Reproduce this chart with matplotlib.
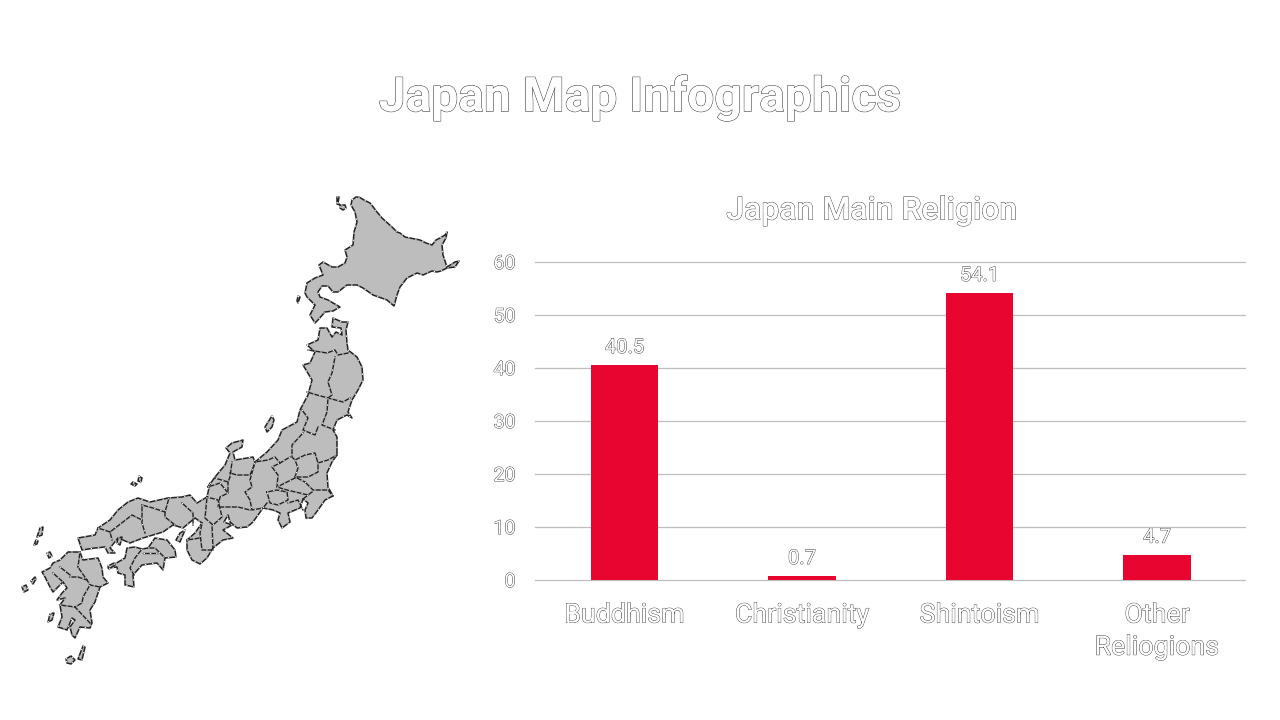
#!/usr/bin/env python3
# Japan map infographic: traced prefecture map on the left, religion bars on the right.
import matplotlib
matplotlib.use("Agg")
import matplotlib.pyplot as plt
import matplotlib.patheffects as pe
from matplotlib.patches import Polygon

plt.rcParams["font.family"] = ["Roboto", "DejaVu Sans"]

categories = ["Buddhism", "Christianity", "Shintoism", "Other\nReliogions"]
values = [40.5, 0.7, 54.1, 4.7]
y_ticks = [0, 10, 20, 30, 40, 50, 60]

# map outlines (canvas pixels)
hokkaido = [(352, 200), (356, 197), (359, 197), (364, 200), (370, 203), (374, 208), (377, 212), (382, 218), (392, 227), (397, 232), (400, 233), (405, 237), (410, 238),
            (420, 240), (426, 243), (432, 245), (436, 240), (440, 238), (445, 235), (447, 232), (446, 238), (442, 245), (443, 255),
            (447, 267), (455, 262), (459, 261), (455, 267), (447, 268), (441, 271), (437, 272), (432, 271), (423, 275), (417, 273),
            (407, 278), (400, 287), (397, 295), (394, 306), (387, 300), (373, 295), (363, 288), (357, 285),
            (347, 285), (338, 292), (333, 292), (328, 286), (322, 286), (318, 292), (320, 297), (328, 300),
            (340, 307), (333, 311), (325, 312), (318, 320), (315, 323), (310, 315), (315, 305), (307, 297),
            (305, 293), (307, 283), (315, 278), (323, 275), (319, 265), (323, 262), (332, 267), (338, 267),
            (345, 263), (347, 257), (345, 250), (353, 245), (354, 232), (357, 222), (355, 212), (351, 205)]
honshu = [(307, 345), (318, 340), (320, 328), (327, 328), (332, 337), (336, 332), (342, 335), (341, 328),
          (332, 327), (333, 318), (342, 322), (348, 322), (346, 330), (347, 343), (348, 350), (357, 357),
          (362, 367), (363, 380), (358, 390), (352, 400), (348, 412), (352, 418), (347, 415), (337, 420),
          (333, 430), (337, 437), (337, 455), (332, 462), (327, 473), (328, 487), (333, 496), (325, 500),
          (318, 510), (312, 518), (306, 518), (305, 510), (308, 503), (303, 499), (300, 508), (288, 513),
          (290, 522), (282, 528), (278, 520), (280, 513), (273, 510), (263, 508), (253, 522), (247, 527),
          (237, 528), (230, 522), (228, 515), (224, 522), (232, 525), (223, 530), (233, 538), (223, 540),
          (213, 548), (207, 558), (200, 564), (192, 560), (187, 550), (187, 540), (195, 533), (202, 523),
          (195, 518), (183, 528), (173, 525), (163, 532), (143, 538), (130, 543), (118, 538), (110, 548),
          (115, 553), (108, 553), (105, 547), (95, 548), (82, 550), (78, 538), (95, 535), (98, 528),
          (110, 520), (118, 510), (128, 502), (138, 498), (150, 502), (168, 498), (182, 497), (190, 495),
          (197, 503), (207, 497), (210, 483), (208, 487), (215, 477), (225, 465), (230, 453), (226, 448),
          (232, 443), (243, 440), (242, 447), (233, 452), (235, 460), (253, 457), (255, 462), (267, 452),
          (278, 440), (282, 430), (297, 422), (300, 410), (308, 395), (312, 380), (303, 365), (310, 363),
          (315, 352)]
shikoku = [(148, 548), (155, 538), (167, 540), (175, 550), (176, 557), (165, 558), (163, 570), (157, 563),
           (142, 565), (133, 575), (134, 587), (125, 585), (125, 575), (118, 573), (117, 567), (108, 568),
           (125, 558), (127, 548), (135, 547), (142, 549)]
kyushu = [(60, 560), (68, 552), (80, 552), (83, 560), (98, 558), (102, 568), (103, 577), (108, 583),
          (100, 587), (95, 602), (90, 610), (92, 623), (90, 628), (80, 627), (75, 638), (72, 635),
          (70, 627), (75, 620), (72, 618), (67, 630), (58, 627), (62, 617), (60, 605), (65, 598),
          (57, 600), (62, 593), (67, 588), (63, 582), (53, 592), (50, 587), (45, 577), (42, 572),
          (50, 568), (53, 563)]
islands = [
    [(272, 416), (274, 420), (272, 427), (267, 432), (265, 427), (268, 422)],  # Sado
    [(341, 205), (345, 205), (346, 208), (343, 210), (340, 208)],  # Rishiri
    [(337, 197), (339, 197), (338, 203), (340, 205), (337, 204)],  # Rebun
    [(298, 296), (300, 297), (298, 303), (297, 301)],  # Okushiri
    [(185, 530), (180, 542), (176, 540), (180, 533)],  # Awaji
    [(139, 476), (142, 478), (141, 482), (138, 481)],  # Oki
    [(133, 482), (137, 484), (135, 486), (131, 484)],
    [(40, 528), (43, 527), (42, 535), (37, 537)],  # Tsushima
    [(36, 540), (38, 541), (37, 544), (34, 545)],
    [(47, 553), (50, 552), (52, 556), (49, 558)],  # Iki
    [(22, 587), (26, 585), (28, 590), (24, 592)],  # Goto
    [(31, 581), (35, 577), (36, 579), (33, 584)],
    [(50, 614), (54, 613), (52, 620), (48, 622)],  # Koshiki
    [(83, 646), (85, 647), (82, 660), (78, 659)],  # Tanegashima
    [(66, 659), (71, 656), (75, 660), (71, 664), (67, 663)],  # Yakushima
    [(108, 566), (114, 563), (115, 565), (109, 569)],
    [(118, 538), (122, 537), (120, 545), (117, 543)],
]
borders = [
    [(308, 350), (327, 353), (335, 350), (338, 355), (348, 353)],
    [(335, 357), (332, 373), (328, 382), (332, 395), (328, 398)],
    [(307, 392), (317, 395), (328, 398), (343, 402), (350, 398)],
    [(328, 398), (327, 412), (322, 425), (335, 430)],
    [(302, 410), (308, 418), (303, 430), (315, 435), (318, 427)],
    [(303, 433), (292, 445), (292, 457), (295, 460), (305, 455), (315, 453), (318, 463), (328, 460), (337, 455)],
    [(295, 460), (298, 468), (295, 477), (305, 482)],
    [(318, 463), (318, 472), (308, 477), (295, 477)],
    [(305, 482), (313, 490), (328, 490), (333, 496)],
    [(290, 457), (280, 463), (272, 467), (278, 475), (277, 487), (295, 478)],
    [(277, 487), (287, 490), (308, 495), (312, 492)],
    [(255, 462), (268, 460), (275, 457), (280, 463)],
    [(255, 462), (250, 480), (252, 487), (245, 492), (250, 500), (252, 510), (263, 508)],
    [(267, 492), (277, 490), (287, 492), (288, 500), (278, 505), (270, 503), (267, 492)],
    [(288, 503), (298, 500), (303, 510)],
    [(308, 495), (303, 499)],
    [(263, 508), (267, 503)],
    [(230, 473), (237, 475), (250, 475), (253, 468), (255, 462)],
    [(232, 462), (230, 477), (228, 482), (215, 478)],
    [(208, 487), (220, 483), (228, 493), (228, 482)],
    [(228, 493), (220, 497), (218, 507), (228, 507), (238, 507), (250, 510)],
    [(169, 498), (165, 512), (165, 517), (175, 525)],
    [(142, 505), (142, 523), (145, 533)],
    [(142, 505), (153, 508), (165, 512)],
    [(110, 532), (123, 522), (132, 515), (142, 520)],
    [(110, 532), (112, 540)],
    [(98, 528), (110, 532)],
    [(182, 503), (193, 513), (193, 525)],
    [(207, 497), (205, 518), (213, 525), (222, 517), (218, 500), (207, 497)],
    [(202, 523), (200, 533), (202, 550), (213, 550)],
    [(212, 525), (213, 548)],
    [(187, 540), (200, 538)],
    [(148, 548), (155, 548), (165, 558)],
    [(142, 549), (135, 558), (130, 568), (134, 575)],
    [(143, 553), (157, 553)],
    [(60, 567), (70, 575)],
    [(78, 567), (82, 573), (87, 580), (90, 585), (100, 587)],
    [(80, 552), (78, 567)],
    [(70, 577), (78, 577), (87, 580)],
    [(90, 585), (83, 597), (82, 603), (75, 607)],
    [(60, 605), (75, 607), (90, 623)],
    [(53, 573), (63, 582)],
]

GRAY = "#bdbdbd"
RED = "#e8052f"
LINE = "#222222"


def outlined(w=0.6, color="#333333"):
    # white letters with a thin dark edge, the way the reference shows its text
    return [pe.withStroke(linewidth=w, foreground=color)]


fig = plt.figure(figsize=(12.8, 7.2), dpi=100, facecolor="white")

# --- map, in canvas pixels ---
mp = fig.add_axes([0, 0, 1, 1])
mp.set_xlim(0, 1280)
mp.set_ylim(720, 0)
mp.axis("off")
for shape in [hokkaido, honshu, shikoku, kyushu] + islands:
    mp.add_patch(Polygon(shape, closed=True, facecolor=GRAY, edgecolor=LINE, lw=1.1, joinstyle="round"))
    mp.add_patch(Polygon(shape, closed=True, fill=False, edgecolor="white", lw=0.7, ls=(0, (1.5, 6))))
for line in borders:
    xs, ys = zip(*line)
    mp.plot(xs, ys, color=LINE, lw=1.0, solid_joinstyle="round")
    mp.plot(xs, ys, color="white", lw=0.7, ls=(0, (1.5, 5)))

fig.text(640 / 1280, 1 - 98 / 720, "Japan Map Infographics", ha="center", va="center", color="white",
         fontsize=34.5, fontweight="bold", path_effects=outlined(0.7))

# --- bar chart ---
ax = fig.add_axes([535 / 1280, 140 / 720, 710 / 1280, 318 / 720])
ax.patch.set_alpha(0)
bars = ax.bar(range(len(values)), values, width=0.378, color=RED, zorder=3)
ax.set_xlim(-0.504, 3.496)
ax.set_ylim(0, 60)
ax.set_yticks(y_ticks)
ax.set_xticks(range(len(categories)))
ax.set_xticklabels(categories, fontsize=19.3, color="white", linespacing=1.25, path_effects=outlined())
ax.tick_params(axis="x", length=0, pad=15.5)
ax.tick_params(axis="y", length=0, pad=14, labelsize=14, labelcolor="white")
for t in ax.get_yticklabels():
    t.set_path_effects(outlined())
ax.grid(axis="y", color="#bdbdbd", lw=0.9, zorder=1, clip_on=False)
for side in ["top", "right", "left", "bottom"]:
    ax.spines[side].set_visible(False)
for lab in ax.bar_label(bars, labels=[f"{v}" for v in values], padding=6, fontsize=14.5, color="white"):
    lab.set_path_effects(outlined())

fig.text(872 / 1280, 1 - 211 / 720, "Japan Main Religion", ha="center", va="center", color="white",
         fontsize=23, fontweight="medium", path_effects=outlined())

fig.savefig("out.png", dpi=100)
